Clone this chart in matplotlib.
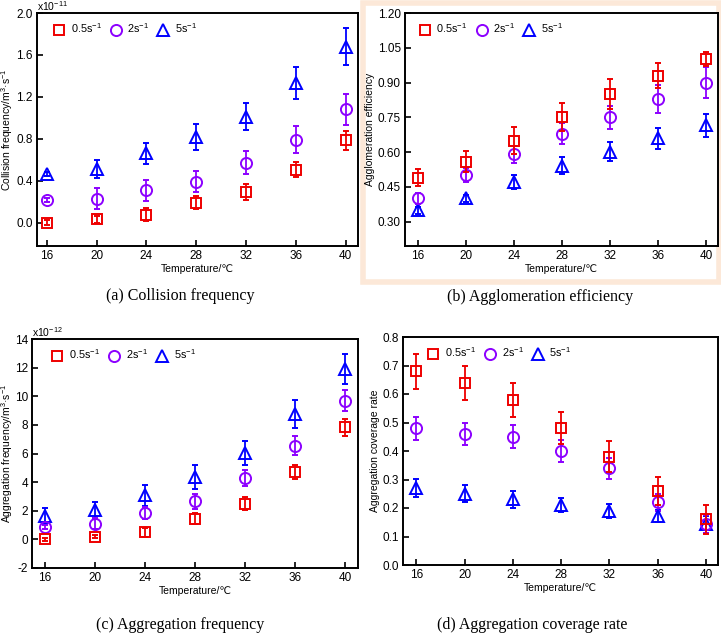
import numpy as np
import matplotlib.pyplot as plt
from matplotlib.patches import Rectangle
from matplotlib.lines import Line2D
from matplotlib.ticker import FormatStrFormatter

plt.rcParams['font.family'] = ['Liberation Sans', 'DejaVu Sans']
plt.rcParams['mathtext.fontset'] = 'custom'
plt.rcParams['mathtext.rm'] = 'Liberation Sans'

temp = [16, 20, 24, 28, 32, 36, 40]
series_names = ['0.5s$^{-1}$', '2s$^{-1}$', '5s$^{-1}$']

# (a) collision frequency, x1e-11
col_05 = [0.0, 0.03, 0.075, 0.19, 0.29, 0.505, 0.787]
col_05_err = [0.02, 0.03, 0.06, 0.065, 0.075, 0.075, 0.09]
col_2 = [0.218, 0.227, 0.31, 0.39, 0.57, 0.79, 1.08]
col_2_err = [0.02, 0.1, 0.1, 0.1, 0.11, 0.13, 0.15]
col_5 = [0.46, 0.51, 0.66, 0.816, 1.01, 1.33, 1.68]
col_5_err = [0.02, 0.085, 0.1, 0.12, 0.13, 0.155, 0.18]

# (b) agglomeration efficiency
agg_eff_05 = [0.49, 0.558, 0.65, 0.75, 0.85, 0.93, 1.0]
agg_eff_05_err = [0.035, 0.045, 0.057, 0.06, 0.065, 0.055, 0.03]
agg_eff_2 = [0.40, 0.50, 0.59, 0.68, 0.75, 0.83, 0.90]
agg_eff_2_err = [0.025, 0.03, 0.038, 0.047, 0.05, 0.06, 0.066]
agg_eff_5 = [0.35, 0.40, 0.47, 0.542, 0.602, 0.66, 0.715]
agg_eff_5_err = [0.015, 0.015, 0.03, 0.035, 0.04, 0.045, 0.05]

# (c) aggregation frequency, x1e-12
agg_f_05 = [0.0, 0.2, 0.5, 1.45, 2.5, 4.7, 7.83]
agg_f_05_err = [0.1, 0.1, 0.3, 0.4, 0.45, 0.5, 0.6]
agg_f_2 = [0.86, 1.1, 1.84, 2.65, 4.28, 6.55, 9.7]
agg_f_2_err = [0.15, 0.4, 0.45, 0.55, 0.55, 0.65, 0.75]
agg_f_5 = [1.65, 2.03, 3.07, 4.35, 6.03, 8.75, 11.9]
agg_f_5_err = [0.55, 0.6, 0.75, 0.85, 0.85, 1.0, 1.05]

# (d) aggregation coverage rate
cov_05 = [0.68, 0.64, 0.58, 0.48, 0.38, 0.26, 0.16]
cov_05_err = [0.062, 0.06, 0.06, 0.057, 0.055, 0.05, 0.05]
cov_2 = [0.48, 0.46, 0.45, 0.40, 0.34, 0.22, 0.144]
cov_2_err = [0.04, 0.04, 0.04, 0.04, 0.037, 0.03, 0.03]
cov_5 = [0.27, 0.25, 0.23, 0.21, 0.19, 0.172, 0.143]
cov_5_err = [0.033, 0.03, 0.03, 0.025, 0.025, 0.02, 0.03]

cores = ['#ee0000', '#8c00ff', '#0000ff']
marcadores = ['s', 'o', '^']
tamanhos = [7, 8, 8.5]

fig = plt.figure(figsize=(7.21, 6.34), dpi=100)

# moldura salmao do painel (b), atras dos eixos
fig.patches.append(Rectangle((363 / 721, 1 - 282 / 634), 356 / 721, 279 / 634,
                             transform=fig.transFigure, facecolor='white',
                             edgecolor='#fce8d8', linewidth=4, zorder=-5))

paineis = [
    dict(pos=[37, 13, 358, 246], dados=[(col_05, col_05_err), (col_2, col_2_err), (col_5, col_5_err)],
         ylim=(-0.224, 2.0), yticks=np.arange(0, 2.01, 0.4), fmt='%.1f', xlim=(15.2, 41),
         ylabel='Collision frequency/m$^3$·s$^{-1}$', labx=-0.069, exp='x10$^{-11}$',
         legx=0.02, caption='(a) Collision frequency', cap=(180, 296)),
    dict(pos=[405, 13, 718, 246], dados=[(agg_eff_05, agg_eff_05_err), (agg_eff_2, agg_eff_2_err), (agg_eff_5, agg_eff_5_err)],
         ylim=(0.195, 1.2), yticks=np.arange(0.30, 1.21, 0.15), fmt='%.2f', xlim=(14.95, 41),
         ylabel='Agglomeration efficiency', labx=-0.096, exp=None,
         legx=0.014, caption='(b) Agglomeration efficiency', cap=(540, 297)),
    dict(pos=[32, 339, 358, 568], dados=[(agg_f_05, agg_f_05_err), (agg_f_2, agg_f_2_err), (agg_f_5, agg_f_5_err)],
         ylim=(-2, 14), yticks=np.arange(-2, 14.1, 2), fmt='%d', xlim=(15, 41),
         ylabel='Aggregation frequency/m$^3$·s$^{-1}$', labx=-0.052, exp='x10$^{-12}$',
         legx=0.03, caption='(c) Aggregation frequency', cap=(180, 625)),
    dict(pos=[403, 337, 718, 565], dados=[(cov_05, cov_05_err), (cov_2, cov_2_err), (cov_5, cov_5_err)],
         ylim=(0, 0.8), yticks=np.arange(0, 0.81, 0.1), fmt='%.1f', xlim=(14.9, 41),
         ylabel='Aggregation coverage rate', labx=-0.073, exp=None,
         legx=0.046, caption='(d) Aggregation coverage rate', cap=(532, 625)),
]

for p in paineis:
    x0, y0, x1, y1 = p['pos']
    ax = fig.add_axes([x0 / 721, 1 - y1 / 634, (x1 - x0) / 721, (y1 - y0) / 634])
    for i, (val, err) in enumerate(p['dados']):
        ax.errorbar(temp, val, yerr=err, fmt=marcadores[i], color=cores[i],
                    mfc='none', mec=cores[i], ms=tamanhos[i], mew=1.4,
                    elinewidth=1.3, capsize=2.5, capthick=1.3,
                    zorder=3.2 if i == 0 else 3 - i * 0.1)
    ax.set_xlim(*p['xlim'])
    ax.set_ylim(*p['ylim'])
    ax.set_xticks(temp)
    ax.set_yticks(p['yticks'])
    ax.yaxis.set_major_formatter(FormatStrFormatter(p['fmt']))
    ax.tick_params(direction='in', length=4, width=1.2, labelsize=8.5, pad=3)
    for s in ax.spines.values():
        s.set_linewidth(1.4)
    ax.set_xlabel('Temperature/℃', fontsize=7.5, labelpad=1)
    ax.set_ylabel(p['ylabel'], fontsize=7.5)
    ax.yaxis.set_label_coords(p['labx'], 0.5)
    if p['exp']:
        ax.text(0.0, 1.0, p['exp'], transform=ax.transAxes, fontsize=7.5,
                ha='left', va='bottom')
    # legenda so com marcadores
    alcas = [Line2D([], [], ls='none', marker=marcadores[i], ms=tamanhos[i],
                    mfc='none', mec=cores[i], mew=1.4) for i in range(3)]
    ax.legend(alcas, series_names, loc='upper left', bbox_to_anchor=(p['legx'], 1.0),
              ncol=3, frameon=False, fontsize=7.8, handletextpad=0.5,
              columnspacing=0.7, handlelength=1.2, borderaxespad=0.4)
    fig.text(p['cap'][0] / 721, 1 - p['cap'][1] / 634, p['caption'],
             family='Liberation Serif', fontsize=11.5, ha='center', va='center')

plt.savefig('out.png', dpi=100)
